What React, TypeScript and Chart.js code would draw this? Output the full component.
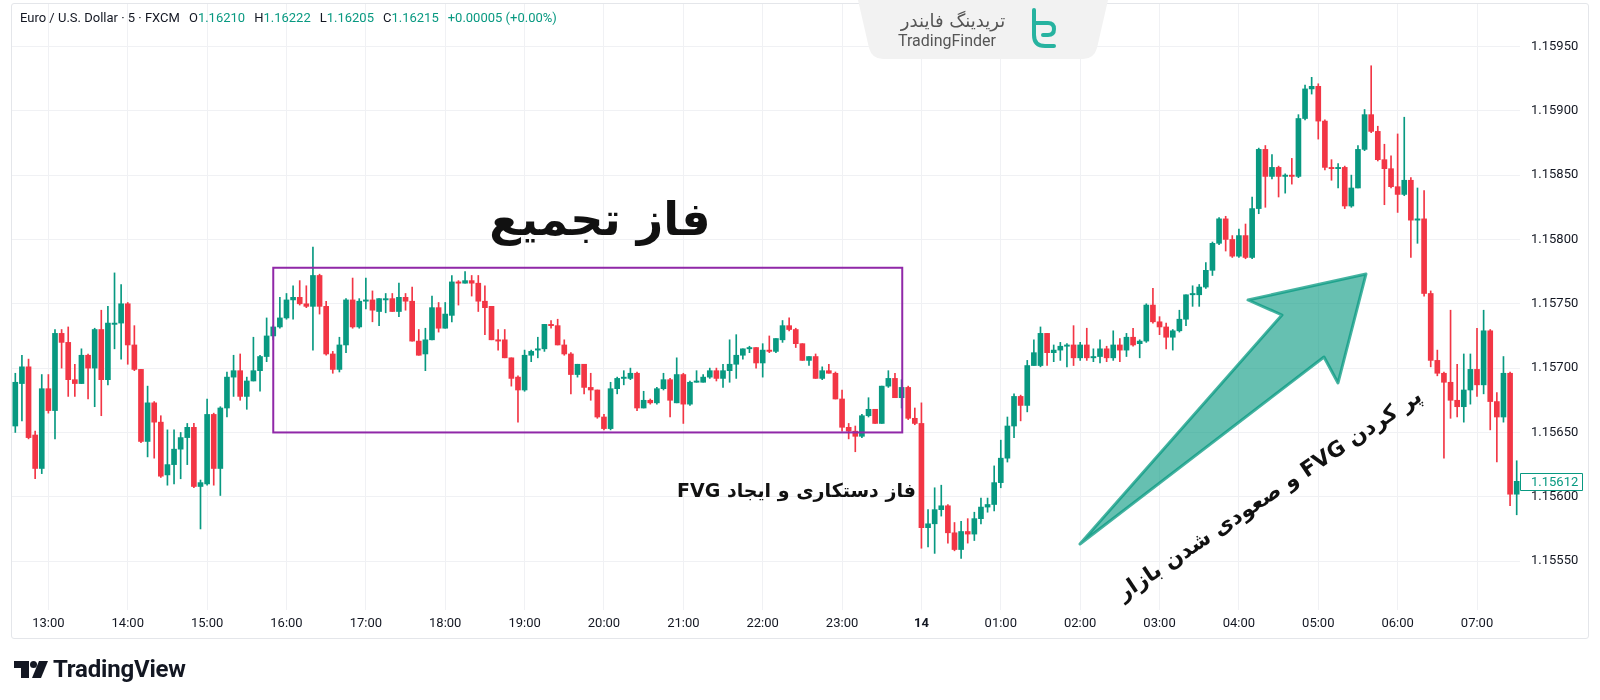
import React, { useEffect, useRef } from 'react';
import { Chart, registerables } from 'chart.js';

Chart.register(...registerables);

// ---- data (EUR/USD 5-minute candles, 12:35 -> 07:30) ----
const opens = [
  1.15655,1.15688,1.15701,1.15648,1.15622,1.15684,1.15667,1.15727,1.15720,1.15691,1.15688,1.15710,
  1.15700,1.15730,1.15691,1.15734,1.15735,1.15750,1.15718,1.15699,1.15643,1.15673,1.15658,1.15617,
  1.15625,1.15637,1.15646,1.15654,1.15608,1.15610,1.15664,1.15622,1.15669,1.15693,1.15698,1.15678,
  1.15690,1.15698,1.15709,1.15725,1.15732,1.15739,1.15753,1.15755,1.15750,1.15748,1.15772,1.15748,
  1.15711,1.15699,1.15718,1.15753,1.15732,1.15752,1.15753,1.15744,1.15753,1.15754,1.15744,1.15755,
  1.15752,1.15721,1.15711,1.15722,1.15747,1.15731,1.15741,1.15767,1.15766,1.15768,1.15766,1.15752,
  1.15748,1.15722,1.15722,1.15708,1.15693,1.15683,1.15710,1.15714,1.15715,1.15734,1.15733,1.15718,
  1.15711,1.15695,1.15703,1.15685,1.15683,1.15662,1.15653,1.15684,1.15692,1.15692,1.15696,1.15669,
  1.15675,1.15673,1.15684,1.15691,1.15673,1.15695,1.15672,1.15689,1.15689,1.15693,1.15698,1.15692,
  1.15698,1.15703,1.15710,1.15715,1.15716,1.15704,1.15714,1.15713,1.15722,1.15733,1.15730,1.15719,
  1.15706,1.15709,1.15692,1.15698,1.15696,1.15676,1.15654,1.15651,1.15647,1.15663,1.15668,1.15657,
  1.15686,1.15692,1.15677,1.15685,1.15661,1.15657,1.15576,1.15579,1.15590,1.15593,1.15572,1.15559,
  1.15573,1.15571,1.15583,1.15592,1.15594,1.15611,1.15630,1.15655,1.15678,1.15671,1.15702,1.15702,
  1.15727,1.15712,1.15714,1.15717,1.15718,1.15708,1.15718,1.15708,1.15709,1.15715,1.15708,1.15718,
  1.15714,1.15724,1.15719,1.15721,1.15749,1.15736,1.15732,1.15724,1.15729,1.15738,1.15757,1.15757,
  1.15763,1.15776,1.15797,1.15816,1.15800,1.15787,1.15803,1.15786,1.15824,1.15870,1.15849,1.15856,
  1.15849,1.15850,1.15849,1.15894,1.15917,1.15919,1.15892,1.15856,1.15855,1.15856,1.15826,1.15840,
  1.15870,1.15897,1.15884,1.15862,1.15855,1.15841,1.15835,1.15846,1.15815,1.15816,1.15758,1.15706,
  1.15696,1.15689,1.15675,1.15670,1.15683,1.15699,1.15687,1.15729,1.15674,1.15662,1.15696,1.15602,
];
const highs = [
  1.15696,1.15710,1.15707,1.15651,1.15695,1.15695,1.15730,1.15730,1.15732,1.15703,1.15715,1.15711,
  1.15731,1.15745,1.15748,1.15774,1.15765,1.15751,1.15733,1.15699,1.15686,1.15674,1.15663,1.15652,
  1.15652,1.15650,1.15657,1.15657,1.15613,1.15676,1.15665,1.15670,1.15697,1.15710,1.15711,1.15693,
  1.15724,1.15710,1.15739,1.15733,1.15755,1.15758,1.15764,1.15768,1.15764,1.15794,1.15773,1.15752,
  1.15713,1.15724,1.15754,1.15770,1.15754,1.15770,1.15760,1.15754,1.15758,1.15758,1.15766,1.15758,
  1.15763,1.15730,1.15731,1.15756,1.15751,1.15751,1.15772,1.15768,1.15775,1.15772,1.15772,1.15764,
  1.15748,1.15730,1.15730,1.15708,1.15694,1.15714,1.15714,1.15724,1.15734,1.15737,1.15738,1.15722,
  1.15712,1.15703,1.15703,1.15696,1.15683,1.15664,1.15689,1.15693,1.15698,1.15700,1.15697,1.15682,
  1.15676,1.15685,1.15696,1.15692,1.15708,1.15696,1.15690,1.15698,1.15695,1.15700,1.15700,1.15703,
  1.15722,1.15726,1.15715,1.15717,1.15716,1.15719,1.15725,1.15723,1.15737,1.15739,1.15731,1.15719,
  1.15709,1.15711,1.15701,1.15703,1.15697,1.15683,1.15657,1.15655,1.15664,1.15677,1.15668,1.15686,
  1.15698,1.15696,1.15691,1.15686,1.15669,1.15673,1.15590,1.15607,1.15609,1.15594,1.15580,1.15581,
  1.15583,1.15588,1.15599,1.15599,1.15624,1.15644,1.15662,1.15680,1.15679,1.15706,1.15722,1.15732,
  1.15727,1.15718,1.15720,1.15719,1.15733,1.15720,1.15731,1.15715,1.15722,1.15717,1.15729,1.15723,
  1.15727,1.15731,1.15722,1.15750,1.15762,1.15740,1.15735,1.15730,1.15745,1.15757,1.15764,1.15765,
  1.15782,1.15798,1.15817,1.15818,1.15803,1.15808,1.15812,1.15833,1.15871,1.15873,1.15866,1.15857,
  1.15851,1.15863,1.15897,1.15920,1.15926,1.15921,1.15893,1.15862,1.15859,1.15857,1.15850,1.15873,
  1.15901,1.15935,1.15888,1.15874,1.15865,1.15882,1.15895,1.15848,1.15840,1.15838,1.15760,1.15714,
  1.15697,1.15745,1.15703,1.15711,1.15711,1.15731,1.15745,1.15730,1.15681,1.15709,1.15697,1.15628,
];
const lows = [
  1.15650,1.15659,1.15645,1.15614,1.15618,1.15665,1.15645,1.15700,1.15678,1.15678,1.15688,1.15676,
  1.15670,1.15663,1.15687,1.15715,1.15707,1.15703,1.15698,1.15642,1.15631,1.15630,1.15615,1.15609,
  1.15610,1.15614,1.15625,1.15607,1.15575,1.15609,1.15609,1.15601,1.15662,1.15678,1.15675,1.15668,
  1.15690,1.15682,1.15705,1.15722,1.15731,1.15738,1.15738,1.15749,1.15747,1.15714,1.15742,1.15710,
  1.15696,1.15697,1.15712,1.15731,1.15731,1.15746,1.15736,1.15733,1.15743,1.15744,1.15740,1.15745,
  1.15721,1.15710,1.15698,1.15722,1.15728,1.15731,1.15736,1.15749,1.15766,1.15756,1.15744,1.15726,
  1.15722,1.15714,1.15708,1.15686,1.15658,1.15682,1.15705,1.15708,1.15713,1.15731,1.15718,1.15710,
  1.15680,1.15693,1.15680,1.15675,1.15661,1.15652,1.15652,1.15680,1.15687,1.15691,1.15667,1.15669,
  1.15672,1.15672,1.15683,1.15662,1.15673,1.15657,1.15671,1.15689,1.15689,1.15692,1.15690,1.15685,
  1.15689,1.15692,1.15707,1.15712,1.15700,1.15693,1.15712,1.15712,1.15720,1.15729,1.15716,1.15706,
  1.15702,1.15692,1.15691,1.15696,1.15676,1.15651,1.15645,1.15635,1.15646,1.15662,1.15657,1.15657,
  1.15685,1.15677,1.15669,1.15660,1.15656,1.15560,1.15561,1.15556,1.15585,1.15564,1.15558,1.15552,
  1.15564,1.15566,1.15579,1.15588,1.15589,1.15607,1.15627,1.15646,1.15659,1.15666,1.15702,1.15701,
  1.15702,1.15705,1.15706,1.15701,1.15702,1.15706,1.15706,1.15705,1.15704,1.15705,1.15706,1.15705,
  1.15709,1.15717,1.15708,1.15720,1.15735,1.15726,1.15715,1.15714,1.15728,1.15733,1.15748,1.15748,
  1.15762,1.15772,1.15796,1.15791,1.15786,1.15786,1.15785,1.15785,1.15820,1.15825,1.15847,1.15833,
  1.15836,1.15843,1.15848,1.15893,1.15913,1.15878,1.15854,1.15846,1.15840,1.15824,1.15825,1.15840,
  1.15869,1.15883,1.15861,1.15827,1.15840,1.15821,1.15834,1.15786,1.15797,1.15756,1.15701,1.15694,
  1.15630,1.15661,1.15662,1.15658,1.15672,1.15678,1.15680,1.15652,1.15627,1.15658,1.15593,1.15586,
];
const closes = [
  1.15689,1.15701,1.15646,1.15622,1.15684,1.15667,1.15727,1.15720,1.15691,1.15688,1.15710,1.15700,
  1.15730,1.15691,1.15735,1.15735,1.15750,1.15718,1.15699,1.15643,1.15673,1.15658,1.15616,1.15625,
  1.15637,1.15646,1.15654,1.15608,1.15611,1.15664,1.15622,1.15669,1.15693,1.15698,1.15678,1.15690,
  1.15698,1.15709,1.15725,1.15732,1.15739,1.15753,1.15755,1.15750,1.15748,1.15772,1.15748,1.15711,
  1.15699,1.15718,1.15753,1.15732,1.15752,1.15753,1.15745,1.15754,1.15754,1.15744,1.15755,1.15752,
  1.15721,1.15710,1.15722,1.15747,1.15731,1.15742,1.15767,1.15766,1.15768,1.15766,1.15752,1.15747,
  1.15722,1.15721,1.15708,1.15692,1.15683,1.15710,1.15713,1.15715,1.15734,1.15733,1.15718,1.15711,
  1.15695,1.15703,1.15685,1.15683,1.15662,1.15653,1.15684,1.15692,1.15693,1.15696,1.15669,1.15675,
  1.15673,1.15684,1.15691,1.15675,1.15695,1.15672,1.15689,1.15690,1.15693,1.15698,1.15692,1.15698,
  1.15703,1.15710,1.15715,1.15716,1.15704,1.15714,1.15713,1.15723,1.15733,1.15730,1.15719,1.15706,
  1.15709,1.15692,1.15698,1.15696,1.15676,1.15654,1.15651,1.15647,1.15663,1.15668,1.15657,1.15686,
  1.15692,1.15677,1.15685,1.15661,1.15657,1.15576,1.15579,1.15590,1.15593,1.15572,1.15559,1.15573,
  1.15571,1.15583,1.15592,1.15594,1.15611,1.15630,1.15655,1.15678,1.15671,1.15702,1.15712,1.15727,
  1.15712,1.15714,1.15717,1.15718,1.15708,1.15718,1.15708,1.15709,1.15715,1.15708,1.15718,1.15714,
  1.15724,1.15718,1.15721,1.15749,1.15736,1.15732,1.15724,1.15729,1.15738,1.15757,1.15758,1.15763,
  1.15776,1.15797,1.15816,1.15800,1.15787,1.15803,1.15786,1.15824,1.15870,1.15849,1.15856,1.15849,
  1.15850,1.15849,1.15894,1.15917,1.15919,1.15892,1.15856,1.15855,1.15856,1.15826,1.15840,1.15870,
  1.15897,1.15884,1.15862,1.15855,1.15841,1.15835,1.15846,1.15815,1.15816,1.15758,1.15706,1.15696,
  1.15689,1.15675,1.15670,1.15683,1.15699,1.15687,1.15729,1.15674,1.15662,1.15696,1.15602,1.15612,
];

const startMinute = 12 * 60 + 35;
const candleTimes = opens.map((_, i) => {
  const m = (startMinute + i * 5) % 1440;
  return String(Math.floor(m / 60)).padStart(2, '0') + ':' + String(m % 60).padStart(2, '0');
});
const dayBreakLabel = '14';
const priceTicks = [1.1555, 1.156, 1.1565, 1.157, 1.1575, 1.158, 1.1585, 1.159, 1.1595];
const yMin = 1.15512;
const yMax = 1.15983;
const lastPrice = 1.15612;
// consolidation box (category index range, price range)
const boxStartIdx = 39;
const boxEndIdx = 134.1;
const boxTopPrice = 1.15778;
const boxBottomPrice = 1.1565;

const UP = '#089981';
const DOWN = '#f23645';
const GRID = '#f0f1f4';
const TEXT = '#131722';
const FONT = 'Roboto, "DejaVu Sans", sans-serif';

const overlayPlugin = {
  id: 'tvOverlay',
  afterDatasetsDraw(chart: any) {
    const { ctx, scales } = chart;
    const x = scales.x, y = scales.y;
    const l = x.getPixelForValue(boxStartIdx);
    const r = x.getPixelForValue(boxEndIdx);
    const t = y.getPixelForValue(boxTopPrice);
    const b = y.getPixelForValue(boxBottomPrice);
    ctx.save();
    ctx.strokeStyle = '#9028a8';
    ctx.lineWidth = 2;
    ctx.strokeRect(l, t, r - l, b - t);
    ctx.restore();
  },
  afterDraw(chart: any) {
    const { ctx, scales, chartArea } = chart;
    const py = scales.y.getPixelForValue(lastPrice);
    const bx = chartArea.right + 0.5;
    const bw = 62, bh = 17;
    const by = Math.round(py - bh / 2) + 0.5;
    ctx.save();
    ctx.fillStyle = '#ffffff';
    ctx.strokeStyle = UP;
    ctx.lineWidth = 1;
    ctx.beginPath();
    ctx.rect(bx, by, bw, bh);
    ctx.fill();
    ctx.stroke();
    ctx.fillStyle = UP;
    ctx.font = '13px ' + FONT;
    ctx.textBaseline = 'middle';
    ctx.textAlign = 'left';
    ctx.fillText(lastPrice.toFixed(5), chartArea.right + 11, py + 1);
    ctx.restore();
  },
};

export default function App() {
  const ref = useRef<HTMLCanvasElement>(null);

  useEffect(() => {
    const colors = opens.map((o, i) => (closes[i] >= o ? UP : DOWN));
    const chart = new Chart(ref.current as HTMLCanvasElement, {
      type: 'bar',
      data: {
        labels: candleTimes,
        datasets: [
          {
            label: 'wick',
            data: lows.map((l, i) => [l, highs[i]]) as any,
            backgroundColor: colors,
            barThickness: 1,
            grouped: false,
            borderWidth: 0,
            borderSkipped: false,
            order: 2,
          } as any,
          {
            label: 'body',
            data: opens.map((o, i) => [o, closes[i]]) as any,
            backgroundColor: colors,
            barThickness: 5,
            grouped: false,
            borderWidth: 0,
            borderSkipped: false,
            minBarLength: 1,
            order: 1,
          } as any,
        ],
      },
      options: {
        responsive: false,
        animation: false,
        events: [],
        layout: { padding: 0 },
        plugins: {
          legend: { display: false },
          tooltip: { enabled: false },
        },
        scales: {
          x: {
            type: 'category',
            offset: true,
            border: { display: false },
            grid: {
              offset: false,
              drawTicks: false,
              color: (c: any) => (c.tick && c.tick.label ? GRID : 'rgba(0,0,0,0)'),
              lineWidth: 1,
            },
            ticks: {
              autoSkip: false,
              maxRotation: 0,
              minRotation: 0,
              padding: 6,
              color: TEXT,
              font: (c: any) => ({
                family: FONT,
                size: 13,
                weight: c.tick && c.tick.label === dayBreakLabel ? 'bold' : 'normal',
              }),
              callback: function (this: any, val: any) {
                const lab: string = this.getLabelForValue(val);
                if (!lab.endsWith(':00')) return null;
                if (lab === '00:00') return dayBreakLabel;
                return lab;
              },
            },
            afterFit: (s: any) => {
              s.height = 28;
              s.paddingLeft = 0;
              s.paddingRight = 0;
            },
          },
          y: {
            type: 'linear',
            position: 'right',
            min: yMin,
            max: yMax,
            border: { display: false },
            grid: { color: GRID, drawTicks: false, lineWidth: 1 },
            ticks: {
              padding: 11,
              color: TEXT,
              font: { family: FONT, size: 13 },
              callback: (v: any) => Number(v).toFixed(5),
            },
            afterBuildTicks: (s: any) => {
              s.ticks = priceTicks.map((v) => ({ value: v }));
            },
            afterFit: (s: any) => {
              s.width = 68;
              s.paddingTop = 0;
              s.paddingBottom = 0;
            },
          },
        },
      } as any,
      plugins: [overlayPlugin as any],
    });
    return () => chart.destroy();
  }, []);

  const green = { color: UP };
  return (
    <div
      style={{
        position: 'absolute',
        left: 0,
        top: 0,
        width: 1600,
        height: 700,
        background: '#ffffff',
        overflow: 'hidden',
        fontFamily: FONT,
      }}
    >
      <div
        style={{
          position: 'absolute',
          left: 11,
          top: 3,
          width: 1578,
          height: 636,
          border: '1px solid #e4e6ea',
          boxSizing: 'border-box',
          borderRadius: 3,
        }}
      />
      <canvas ref={ref} width={1576} height={634} style={{ position: 'absolute', left: 12, top: 4 }} />

      {/* header */}
      <div
        style={{
          position: 'absolute',
          left: 20,
          top: 10,
          fontSize: 13,
          lineHeight: '16px',
          color: TEXT,
          whiteSpace: 'nowrap',
        }}
      >
        <span>Euro / U.S. Dollar · 5 · FXCM</span>
        <span style={{ marginLeft: 9 }}>O</span>
        <span style={green}>1.16210</span>
        <span style={{ marginLeft: 9 }}>H</span>
        <span style={green}>1.16222</span>
        <span style={{ marginLeft: 9 }}>L</span>
        <span style={green}>1.16205</span>
        <span style={{ marginLeft: 9 }}>C</span>
        <span style={green}>1.16215</span>
        <span style={{ marginLeft: 9, ...green }}>+0.00005 (+0.00%)</span>
      </div>

      {/* TradingFinder tab, arrow, TradingView mark */}
      <svg width={1600} height={700} style={{ position: 'absolute', left: 0, top: 0, pointerEvents: 'none' }}>
        <path d="M858 0 L1108 0 L1097 48 Q1094 59 1083 59 L883 59 Q872 59 869 48 Z" fill="#f2f2f2" />
        <g stroke="#27b3a0" strokeWidth={4} fill="none" strokeLinecap="round" strokeLinejoin="round">
          <path d="M1034 10 L1034 35 Q1034 46 1045 46 L1054 46" />
          <path d="M1034 23 L1048 23 Q1054 23 1054 29 Q1054 35 1048 35 L1043 35" />
        </g>
        <polygon
          points="1080,544 1282,315 1248,300 1366,274 1338,383 1324,357"
          fill="rgba(8,153,129,0.62)"
          stroke="rgba(8,153,129,0.75)"
          strokeWidth={3}
          strokeLinejoin="round"
        />
        <path d="M14 661 L29 661 L29 678 L21 678 L21 668 L14 668 Z" fill="#131722" />
        <circle cx={33.5} cy={664.5} r={3.5} fill="#131722" />
        <path d="M39 661 L48 661 L41 678 L32 678 Z" fill="#131722" />
      </svg>
      <div
        style={{
          position: 'absolute',
          left: 953,
          top: 20,
          transform: 'translate(-50%,-50%)',
          fontFamily: '"DejaVu Sans", sans-serif',
          fontSize: 18,
          color: '#555',
          direction: 'rtl',
          whiteSpace: 'nowrap',
        }}
      >
        تریدینگ فایندر
      </div>
      <div
        style={{
          position: 'absolute',
          left: 947,
          top: 40,
          transform: 'translate(-50%,-50%)',
          fontSize: 16,
          color: '#555',
          whiteSpace: 'nowrap',
        }}
      >
        TradingFinder
      </div>

      {/* annotations */}
      <div
        style={{
          position: 'absolute',
          left: 600,
          top: 219,
          transform: 'translate(-50%,-50%)',
          fontFamily: '"DejaVu Sans", sans-serif',
          fontWeight: 'bold',
          fontSize: 46,
          color: '#111',
          direction: 'rtl',
          whiteSpace: 'nowrap',
        }}
      >
        فاز تجمیع
      </div>
      <div
        style={{
          position: 'absolute',
          right: 1600 - 916,
          top: 490,
          transform: 'translateY(-50%)',
          fontFamily: '"DejaVu Sans", sans-serif',
          fontWeight: 'bold',
          fontSize: 19,
          color: '#111',
          direction: 'rtl',
          whiteSpace: 'nowrap',
        }}
      >
        فاز دستکاری و ایجاد FVG
      </div>
      <div
        style={{
          position: 'absolute',
          left: 1269,
          top: 494,
          transform: 'translate(-50%,-50%) rotate(-33.8deg)',
          fontFamily: '"DejaVu Sans", sans-serif',
          fontWeight: 'bold',
          fontSize: 21.5,
          color: '#111',
          direction: 'rtl',
          whiteSpace: 'nowrap',
        }}
      >
        پر کردن FVG و صعودی شدن بازار
      </div>

      {/* TradingView wordmark */}
      <div
        style={{
          position: 'absolute',
          left: 53,
          top: 669,
          transform: 'translateY(-50%)',
          fontWeight: 'bold',
          fontSize: 24,
          color: '#131722',
          whiteSpace: 'nowrap',
          letterSpacing: -0.2,
        }}
      >
        TradingView
      </div>
    </div>
  );
}
